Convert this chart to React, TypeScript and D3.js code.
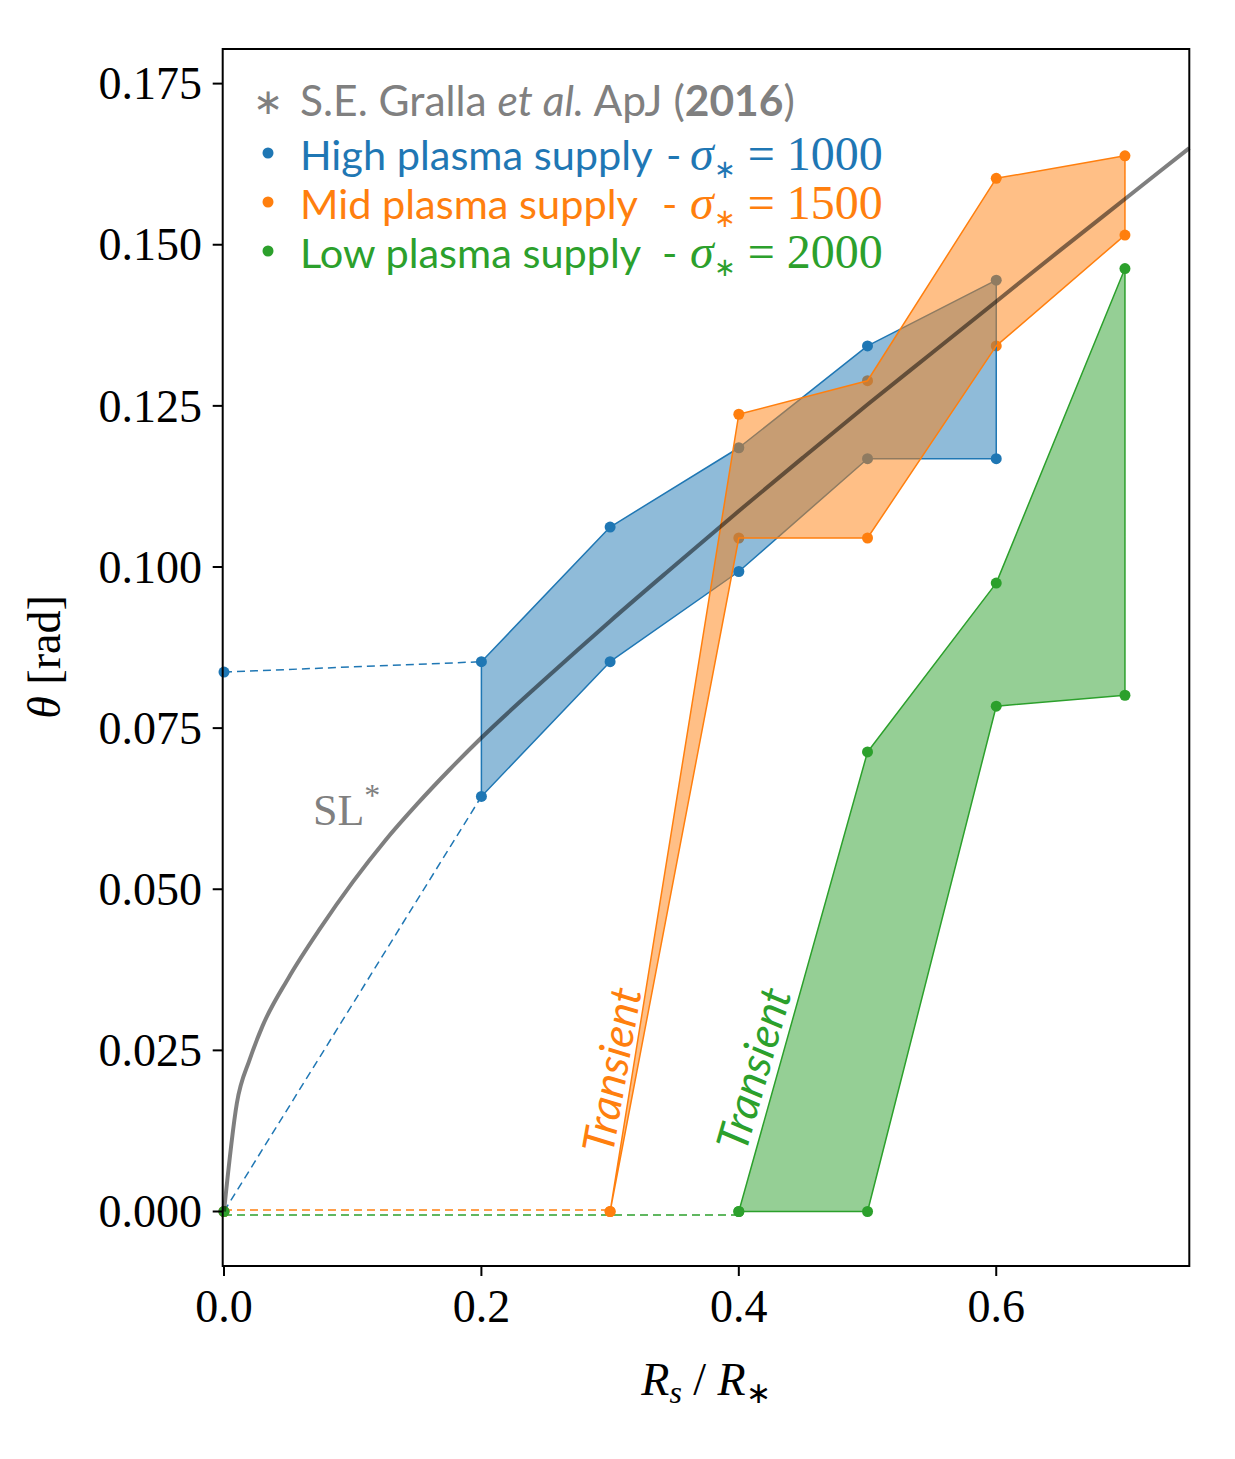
import React from 'react';
import * as d3 from 'd3';

// ---- data ----
const xDomain = [-0.001, 0.75];
const yDomain = [-0.008456, 0.18037];
const xTicks = [0, 0.2, 0.4, 0.6];
const xTickLabels = ['0.0', '0.2', '0.4', '0.6'];
const yTicks = [0, 0.025, 0.05, 0.075, 0.1, 0.125, 0.15, 0.175];
const yTickLabels = ['0.000', '0.025', '0.050', '0.075', '0.100', '0.125', '0.150', '0.175'];

// SL* curve (S.E. Gralla et al. 2016)
const slX = [0, 0.01, 0.02, 0.03, 0.05, 0.075, 0.1, 0.125, 0.15, 0.175, 0.2, 0.25, 0.3, 0.35, 0.4, 0.45, 0.5, 0.55, 0.6, 0.65, 0.7, 0.75];
const slY = [0, 0.0168, 0.0236, 0.0288, 0.0362, 0.0440, 0.0511, 0.0575, 0.0632, 0.0685, 0.0735, 0.0827, 0.0916, 0.1002, 0.1087, 0.1170, 0.1252, 0.1332, 0.1412, 0.1492, 0.1571, 0.1650];

// High plasma supply - sigma = 1000
const highX = [0.2, 0.3, 0.4, 0.5, 0.6];
const highUpper = [0.0853, 0.1062, 0.1185, 0.1343, 0.1445];
const highLower = [0.0644, 0.0853, 0.0993, 0.1168, 0.1168];
const highExtraX = [0];
const highExtraY = [0.0837];
// Mid plasma supply - sigma = 1500
const midX = [0.3, 0.4, 0.5, 0.6, 0.7];
const midUpper = [0.0, 0.1237, 0.1289, 0.1603, 0.1638];
const midLower = [0.0, 0.1045, 0.1045, 0.1343, 0.1515];
// Low plasma supply - sigma = 2000
const lowX = [0.4, 0.5, 0.6, 0.7];
const lowUpper = [0.0, 0.0713, 0.0975, 0.1463];
const lowLower = [0.0, 0.0, 0.0784, 0.0801];

// dashed connectors
const highDash1X = [0, 0.2];
const highDash1Y = [0.0837, 0.0853];
const highDash2X = [0, 0.2];
const highDash2Y = [0, 0.0644];
const midDashX = [0, 0.3];
const midDashY = [0.00023, 0.00023];
const lowDashX = [0, 0.4];
const lowDashY = [-0.00054, -0.00054];

const legendLabels = ['High plasma supply', 'Mid plasma supply', 'Low plasma supply'];
const legendSigma = ['1000', '1500', '2000'];

const BLUE = '#1f77b4';
const ORANGE = '#ff7f0e';
const GREEN = '#2ca02c';
const GRAY = '#808080';
const legendColors = [BLUE, ORANGE, GREEN];

const SERIF = '"Liberation Serif", "Times New Roman", serif';
const SANS = 'Lato, "Open Sans", sans-serif';

export default function App() {
  const L = 222.7, R = 1189.3, T = 49, B = 1266;
  const x = d3.scaleLinear().domain(xDomain).range([L, R]);
  const y = d3.scaleLinear().domain(yDomain).range([B, T]);
  const line = d3.line<[number, number]>().x(d => x(d[0])).y(d => y(d[1]));
  const slLine = d3.line<[number, number]>().x(d => x(d[0])).y(d => y(d[1])).curve(d3.curveMonotoneX);

  const poly = (xs: number[], up: number[], lo: number[]) => {
    const pts: [number, number][] = xs.map((v, i) => [v, up[i]] as [number, number]);
    for (let i = xs.length - 1; i >= 0; i--) pts.push([xs[i], lo[i]]);
    return line(pts) + 'Z';
  };
  const zip = (xs: number[], ys: number[]) => xs.map((v, i) => [v, ys[i]] as [number, number]);

  const series = [
    { xs: highX, up: highUpper, lo: highLower, color: BLUE, extra: zip(highExtraX, highExtraY).concat([[0, 0]]) },
    { xs: midX, up: midUpper, lo: midLower, color: ORANGE, extra: [[0, 0]] as [number, number][] },
    { xs: lowX, up: lowUpper, lo: lowLower, color: GREEN, extra: [[0, 0]] as [number, number][] },
  ];

  const dashes = [
    { d: zip(highDash1X, highDash1Y), c: BLUE },
    { d: zip(highDash2X, highDash2Y), c: BLUE },
    { d: zip(midDashX, midDashY), c: ORANGE },
    { d: zip(lowDashX, lowDashY), c: GREEN },
  ];

  const legendY = [170, 219, 268];

  return (
    <svg width={1235} height={1459} style={{ position: 'absolute', left: 0, top: 0, background: '#fff' }}>
      <rect x={0} y={0} width={1235} height={1459} fill="#fff" />
      {/* dashed connectors */}
      {dashes.map((s, i) => (
        <path key={'d' + i} d={line(s.d) || ''} fill="none" stroke={s.c} strokeWidth={1.5} strokeDasharray="8,5" />
      ))}
      {/* points */}
      {series.map((s, i) => (
        <g key={'p' + i} fill={s.color}>
          {s.xs.map((v, j) => <circle key={'u' + j} cx={x(v)} cy={y(s.up[j])} r={5.5} />)}
          {s.xs.map((v, j) => <circle key={'l' + j} cx={x(v)} cy={y(s.lo[j])} r={5.5} />)}
          {s.extra.map((p, j) => <circle key={'e' + j} cx={x(p[0])} cy={y(p[1])} r={5.5} />)}
        </g>
      ))}
      {/* bands */}
      {series.map((s, i) => (
        <path key={'b' + i} d={poly(s.xs, s.up, s.lo)} fill={s.color} fillOpacity={0.5} stroke={s.color} strokeWidth={1.5} strokeLinejoin="round" />
      ))}
      {/* SL* line */}
      <path d={slLine(zip(slX, slY)) || ''} fill="none" stroke="#000" strokeOpacity={0.5} strokeWidth={4} />

      {/* annotations */}
      <text x={313} y={825} fontFamily={SERIF} fontSize={44} fill={GRAY}>
        SL<tspan fontSize={32} dy={-19}>*</tspan>
      </text>
      <text transform="translate(612,1070) rotate(-80)" textAnchor="middle" dy="0.35em" fontFamily={SANS} fontStyle="italic" fontSize={44} fill={ORANGE}>Transient</text>
      <text transform="translate(754,1069) rotate(-74)" textAnchor="middle" dy="0.35em" fontFamily={SANS} fontStyle="italic" fontSize={44} fill={GREEN}>Transient</text>

      {/* legend */}
      <text x={268} y={114} textAnchor="middle" fontFamily={SERIF} fontSize={36} fill={GRAY}>∗</text>
      <text x={300} y={116} fontFamily={SANS} fontSize={42.5} fill={GRAY}>
        S.E. Gralla <tspan fontStyle="italic">et al.</tspan> ApJ (<tspan fontWeight="bold">2016</tspan>)
      </text>
      {legendLabels.map((lab, i) => (
        <g key={'lg' + i}>
          <circle cx={268} cy={legendY[i] - 17} r={5.5} fill={legendColors[i]} />
          <text x={300} y={legendY[i]} fontFamily={SANS} fontSize={41.5} fill={legendColors[i]}>
            {lab}
            <tspan x={i === 0 ? 666 : 662}>-</tspan>
            <tspan x={690} fontFamily={SERIF} fontStyle="italic" fontSize={48}>σ</tspan>
            <tspan fontFamily={SERIF} fontSize={26} dy={8}>∗</tspan>
            <tspan fontFamily={SERIF} fontSize={48} dy={-8}> = {legendSigma[i]}</tspan>
          </text>
        </g>
      ))}

      {/* axes */}
      <rect x={L} y={T} width={R - L} height={B - T} fill="none" stroke="#000" strokeWidth={2} />
      {xTicks.map((t, i) => (
        <g key={'xt' + i}>
          <line x1={x(t)} x2={x(t)} y1={B} y2={B + 10} stroke="#000" strokeWidth={2} />
          <text x={x(t)} y={1322} textAnchor="middle" fontFamily={SERIF} fontSize={46} fill="#000">{xTickLabels[i]}</text>
        </g>
      ))}
      {yTicks.map((t, i) => (
        <g key={'yt' + i}>
          <line x1={L - 10} x2={L} y1={y(t)} y2={y(t)} stroke="#000" strokeWidth={2} />
          <text x={202} y={y(t)} dy="0.34em" textAnchor="end" fontFamily={SERIF} fontSize={46} fill="#000">{yTickLabels[i]}</text>
        </g>
      ))}
      <text x={706} y={1395} textAnchor="middle" fontFamily={SERIF} fontSize={46} fill="#000">
        <tspan fontStyle="italic">R</tspan>
        <tspan fontStyle="italic" fontSize={32} dy={8}>s</tspan>
        <tspan dy={-8}> / </tspan>
        <tspan fontStyle="italic">R</tspan>
        <tspan fontSize={30} dy={8}>∗</tspan>
      </text>
      <text transform="translate(60,657) rotate(-90)" textAnchor="middle" fontFamily={SERIF} fontSize={46} fill="#000">
        <tspan fontStyle="italic">θ</tspan> [rad]
      </text>
    </svg>
  );
}
